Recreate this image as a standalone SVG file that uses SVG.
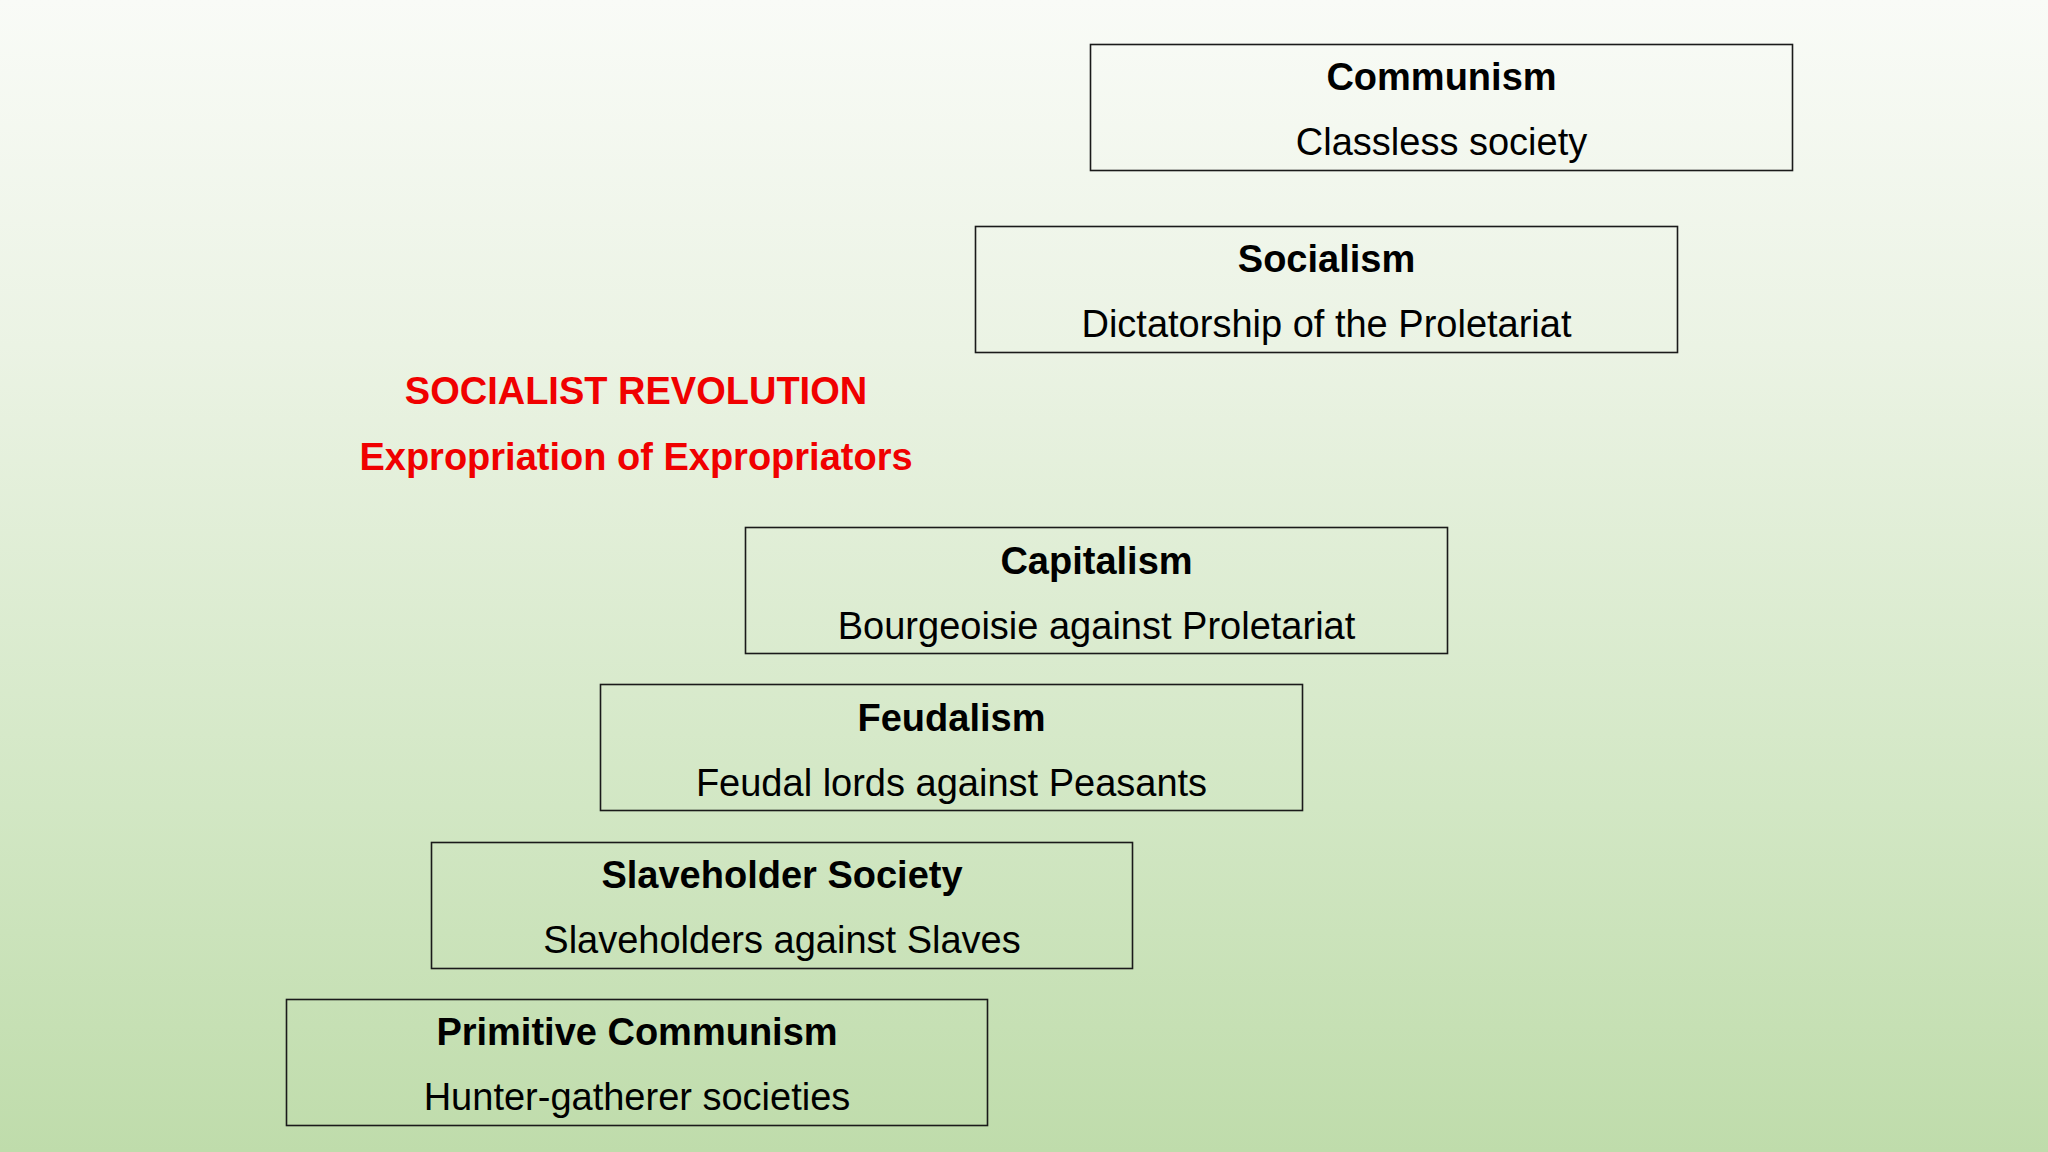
<svg xmlns="http://www.w3.org/2000/svg" width="2048" height="1152" viewBox="0 0 2048 1152">
<defs>
<linearGradient id="bg" x1="0" y1="0" x2="0" y2="1">
<stop offset="0" stop-color="#f9fbf7"/>
<stop offset="0.3" stop-color="#ebf3e4"/>
<stop offset="0.7" stop-color="#d2e7c4"/>
<stop offset="1" stop-color="#bfdcab"/>
</linearGradient>
<style>
.box{fill:none;stroke:#1a1a1a;stroke-width:1.6}
.t{font-family:"Liberation Sans",Arial,sans-serif;font-size:38px;font-weight:bold;fill:#000;text-anchor:middle}
.s{font-family:"Liberation Sans",Arial,sans-serif;font-size:38px;fill:#000;text-anchor:middle}
.r{font-family:"Liberation Sans",Arial,sans-serif;font-size:38px;font-weight:bold;fill:#f00000;text-anchor:middle}
</style>
</defs>
<rect width="2048" height="1152" fill="url(#bg)"/>
<g id="connectors"/>
<g id="communism">
<rect class="box" x="1090.5" y="44.5" width="702" height="126"/>
<text class="t" x="1441.5" y="90">Communism</text>
<text class="s" x="1441.5" y="155">Classless society</text>
</g>
<g id="socialism">
<rect class="box" x="975.5" y="226.5" width="702" height="126"/>
<text class="t" x="1326.5" y="272">Socialism</text>
<text class="s" x="1326.5" y="337">Dictatorship of the Proletariat</text>
</g>
<g id="revolution">
<text class="r" x="636" y="404">SOCIALIST REVOLUTION</text>
<text class="r" x="636" y="470">Expropriation of Expropriators</text>
</g>
<g id="capitalism">
<rect class="box" x="745.5" y="527.5" width="702" height="126"/>
<text class="t" x="1096.5" y="574">Capitalism</text>
<text class="s" x="1096.5" y="639">Bourgeoisie against Proletariat</text>
</g>
<g id="feudalism">
<rect class="box" x="600.5" y="684.5" width="702" height="126"/>
<text class="t" x="951.5" y="731">Feudalism</text>
<text class="s" x="951.5" y="796">Feudal lords against Peasants</text>
</g>
<g id="slaveholder">
<rect class="box" x="431.5" y="842.5" width="701" height="126"/>
<text class="t" x="782" y="888">Slaveholder Society</text>
<text class="s" x="782" y="953">Slaveholders against Slaves</text>
</g>
<g id="primitive">
<rect class="box" x="286.5" y="999.5" width="701" height="126"/>
<text class="t" x="637" y="1045">Primitive Communism</text>
<text class="s" x="637" y="1110">Hunter-gatherer societies</text>
</g>
</svg>
